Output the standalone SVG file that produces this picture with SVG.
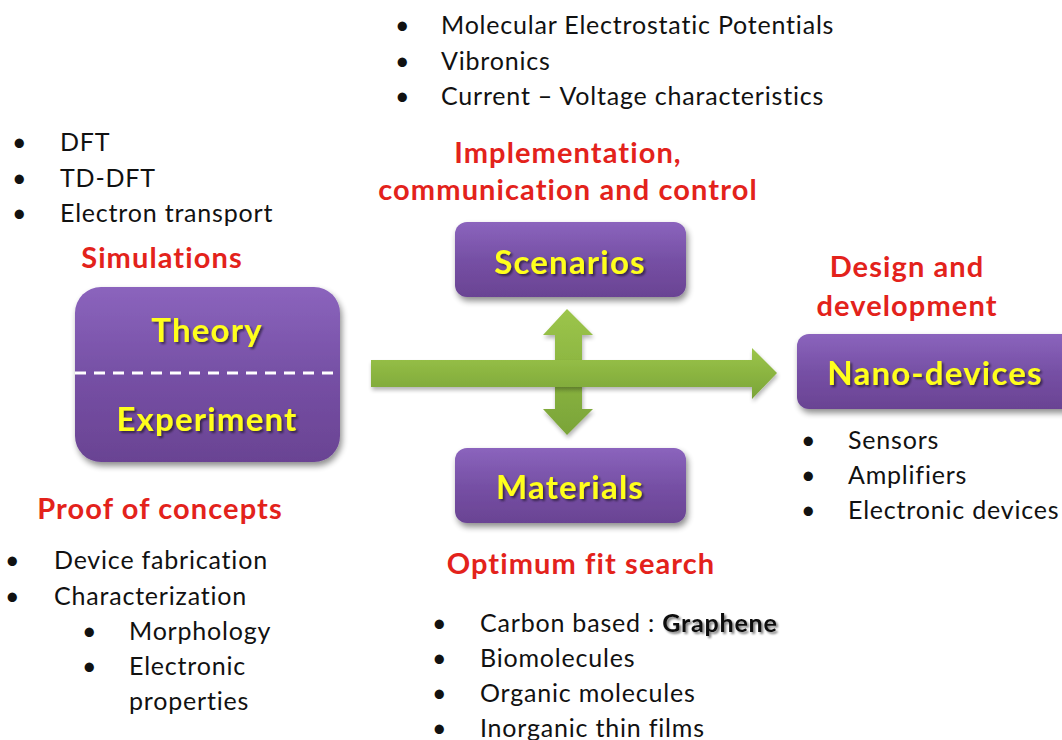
<svg xmlns="http://www.w3.org/2000/svg" width="1062" height="740" viewBox="0 0 1062 740">
  <style>
    text { font-variant-ligatures: none; }
    .list { font-family: Lato, "Liberation Sans", sans-serif; font-size: 25px; letter-spacing: 0.8px; fill: #111; }
    .red { font-family: Lato, "Liberation Sans", sans-serif; font-size: 29px; letter-spacing: 1.1px; font-weight: bold; fill: #e3221b; text-anchor: middle; }
    .box { fill: url(#purple); filter: url(#shadow); }
    .label { font-family: Lato, "Liberation Sans", sans-serif; font-size: 33px; letter-spacing: 1.2px; font-weight: bold; fill: #ffff1a; text-anchor: middle; filter: url(#tshadow); }
    .arrow { fill: url(#green); filter: url(#ashadow); }
  </style>
  <defs>
    <linearGradient id="purple" x1="0" y1="0" x2="0" y2="1">
      <stop offset="0" stop-color="#8b64bd"/>
      <stop offset="0.5" stop-color="#7650a5"/>
      <stop offset="1" stop-color="#6a4393"/>
    </linearGradient>
    <linearGradient id="green" x1="0" y1="0" x2="0" y2="1">
      <stop offset="0" stop-color="#9cc54a"/>
      <stop offset="1" stop-color="#7aa438"/>
    </linearGradient>
    <filter id="shadow" x="-10%" y="-10%" width="125%" height="135%">
      <feGaussianBlur in="SourceAlpha" stdDeviation="3"/>
      <feOffset dx="2" dy="4" result="b"/>
      <feComponentTransfer><feFuncA type="linear" slope="0.45"/></feComponentTransfer>
      <feMerge><feMergeNode/><feMergeNode in="SourceGraphic"/></feMerge>
    </filter>
    <filter id="ashadow" x="-10%" y="-10%" width="125%" height="135%">
      <feGaussianBlur in="SourceAlpha" stdDeviation="2"/>
      <feOffset dx="1" dy="3" result="b"/>
      <feComponentTransfer><feFuncA type="linear" slope="0.3"/></feComponentTransfer>
      <feMerge><feMergeNode/><feMergeNode in="SourceGraphic"/></feMerge>
    </filter>
    <filter id="tshadow" x="-10%" y="-20%" width="125%" height="150%">
      <feGaussianBlur in="SourceAlpha" stdDeviation="1"/>
      <feOffset dx="1.5" dy="1.5" result="b"/>
      <feComponentTransfer><feFuncA type="linear" slope="0.5"/></feComponentTransfer>
      <feMerge><feMergeNode/><feMergeNode in="SourceGraphic"/></feMerge>
    </filter>
  </defs>
  <rect width="1062" height="740" fill="#ffffff"/>

  <!-- connectors: main flow arrow and the two-way link between scenarios and materials -->
  <g id="connectors">
    <path class="arrow" d="M555,335 H543 L567,309 L593,335 H582 V409 H593 L567,435 L543,409 H555 Z"/>
    <path class="arrow" d="M371,360 H752 V348 L777,373 L752,399 V387 H371 Z"/>
  </g>

  <!-- top notes -->
  <g id="notes-top" class="list">
    <text x="395" y="34">•</text><text x="441" y="34">Molecular Electrostatic Potentials</text>
    <text x="395" y="70">•</text><text x="441" y="70">Vibronics</text>
    <text x="395" y="105">•</text><text x="441" y="105">Current – Voltage characteristics</text>
  </g>
  <text class="red" x="568" y="163">Implementation,</text>
  <text class="red" x="568" y="200">communication and control</text>

  <!-- left notes -->
  <g id="notes-left" class="list">
    <text x="12" y="151">•</text><text x="60" y="151">DFT</text>
    <text x="12" y="187">•</text><text x="60" y="187">TD-DFT</text>
    <text x="12" y="222">•</text><text x="60" y="222">Electron transport</text>
  </g>
  <text class="red" x="162" y="268">Simulations</text>

  <!-- theory / experiment node -->
  <g id="node-theory-experiment">
    <rect class="box" x="75" y="287" width="265" height="175" rx="26"/>
    <line x1="75" y1="373" x2="340" y2="373" stroke="#ffffff" stroke-width="3" stroke-dasharray="11,8"/>
    <text class="label" x="207" y="342">Theory</text>
    <text class="label" x="207" y="431">Experiment</text>
  </g>

  <!-- scenarios node -->
  <g id="node-scenarios">
    <rect class="box" x="455" y="222" width="231" height="75" rx="12"/>
    <text class="label" x="570" y="274">Scenarios</text>
  </g>

  <!-- materials node -->
  <g id="node-materials">
    <rect class="box" x="455" y="448" width="231" height="75" rx="12"/>
    <text class="label" x="570" y="499">Materials</text>
  </g>

  <!-- nano-devices node -->
  <g id="node-nano-devices">
    <text class="red" x="907" y="277">Design and</text>
    <text class="red" x="907" y="316">development</text>
    <rect class="box" x="797" y="334" width="280" height="75" rx="12"/>
    <text class="label" x="935" y="385">Nano-devices</text>
  </g>

  <!-- right notes -->
  <g id="notes-right" class="list">
    <text x="801" y="449">•</text><text x="848" y="449">Sensors</text>
    <text x="801" y="484">•</text><text x="848" y="484">Amplifiers</text>
    <text x="801" y="519">•</text><text x="848" y="519">Electronic devices</text>
  </g>

  <!-- bottom-left notes -->
  <text class="red" x="160" y="519">Proof of concepts</text>
  <g id="notes-bottom-left" class="list">
    <text x="5" y="569">•</text><text x="54" y="569">Device fabrication</text>
    <text x="5" y="605">•</text><text x="54" y="605">Characterization</text>
    <text x="82" y="640">•</text><text x="129" y="640">Morphology</text>
    <text x="82" y="675">•</text><text x="129" y="675">Electronic</text>
    <text x="129" y="710">properties</text>
  </g>

  <!-- bottom notes -->
  <text class="red" x="581" y="574">Optimum fit search</text>
  <g id="notes-bottom" class="list">
    <text x="432" y="632">•</text><text x="480" y="632">Carbon based : <tspan font-weight="bold" filter="url(#tshadow)">Graphene</tspan></text>
    <text x="432" y="667">•</text><text x="480" y="667">Biomolecules</text>
    <text x="432" y="702">•</text><text x="480" y="702">Organic molecules</text>
    <text x="432" y="737">•</text><text x="480" y="737">Inorganic thin films</text>
  </g>
</svg>
